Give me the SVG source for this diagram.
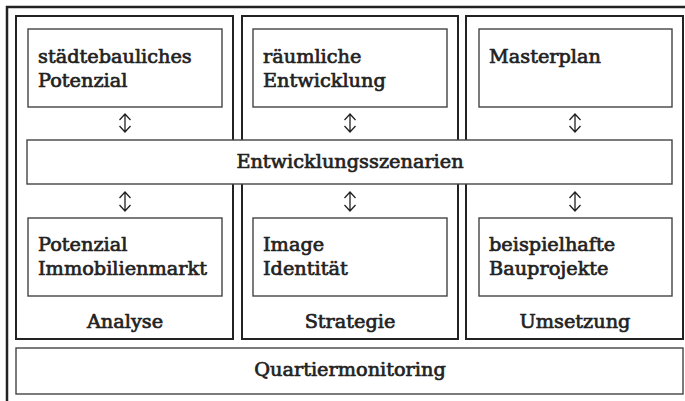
<svg xmlns="http://www.w3.org/2000/svg" width="685" height="401" viewBox="0 0 685 401">
<style>
.col{fill:none;stroke:#222;stroke-width:2}
.box{fill:#fff;stroke:#444;stroke-width:1.4}
.t{font-family:"DejaVu Serif","Liberation Serif",serif;font-size:19.3px;fill:#222;stroke:#222;stroke-width:0.7}
.c{text-anchor:middle}
.arr{fill:none;stroke:#222;stroke-width:1.3}
</style>
<rect width="685" height="401" fill="#fff"/>
<path d="M7,401 V7 H685" fill="none" stroke="#222" stroke-width="2.5"/>
<g id="col-analyse"><rect class="col" x="16" y="16" width="217" height="323"/><text class="t c" x="125" y="328">Analyse</text></g>
<g id="col-strategie"><rect class="col" x="242" y="16" width="216" height="323"/><text class="t c" x="350" y="328">Strategie</text></g>
<g id="col-umsetzung"><rect class="col" x="466" y="16" width="217" height="323"/><text class="t c" x="575" y="328">Umsetzung</text></g>
<g id="n-staedtebau"><rect class="box" x="28" y="29" width="194" height="78"/><text class="t" x="38" y="63">städtebauliches</text><text class="t" x="38" y="87">Potenzial</text></g>
<g id="n-raeumlich"><rect class="box" x="253" y="29" width="194" height="78"/><text class="t" x="263" y="63">räumliche</text><text class="t" x="263" y="87">Entwicklung</text></g>
<g id="n-masterplan"><rect class="box" x="479" y="29" width="193" height="78"/><text class="t" x="489" y="63">Masterplan</text></g>
<g id="n-szenarien"><rect class="box" x="27" y="140" width="645" height="44"/><text class="t c" x="350" y="168">Entwicklungsszenarien</text></g>
<g id="n-immobilien"><rect class="box" x="28" y="218" width="194" height="78"/><text class="t" x="38" y="251">Potenzial</text><text class="t" x="38" y="275">Immobilienmarkt</text></g>
<g id="n-image"><rect class="box" x="253" y="218" width="194" height="78"/><text class="t" x="263" y="251">Image</text><text class="t" x="263" y="275">Identität</text></g>
<g id="n-bau"><rect class="box" x="479" y="218" width="193" height="78"/><text class="t" x="489" y="251">beispielhafte</text><text class="t" x="489" y="275">Bauprojekte</text></g>
<g id="n-monitoring"><rect class="box" x="16" y="348" width="667" height="46"/><text class="t c" x="350" y="376">Quartiermonitoring</text></g>
<g id="connectors">
<path class="arr" d="M125,114 V132 M119.5,120 L125,114 L130.5,120 M119.5,126 L125,132 L130.5,126"/>
<path class="arr" d="M350,114 V132 M344.5,120 L350,114 L355.5,120 M344.5,126 L350,132 L355.5,126"/>
<path class="arr" d="M575,114 V132 M569.5,120 L575,114 L580.5,120 M569.5,126 L575,132 L580.5,126"/>
<path class="arr" d="M125,192 V211 M119.5,198 L125,192 L130.5,198 M119.5,205 L125,211 L130.5,205"/>
<path class="arr" d="M350,192 V211 M344.5,198 L350,192 L355.5,198 M344.5,205 L350,211 L355.5,205"/>
<path class="arr" d="M575,192 V211 M569.5,198 L575,192 L580.5,198 M569.5,205 L575,211 L580.5,205"/>
</g>
</svg>
